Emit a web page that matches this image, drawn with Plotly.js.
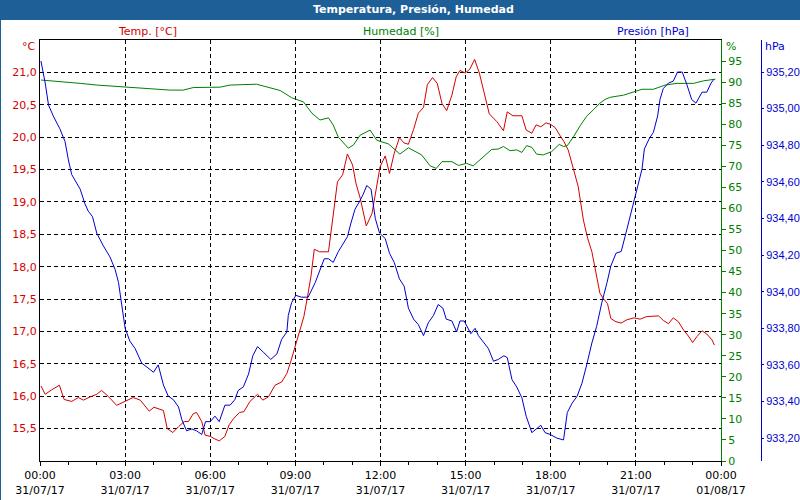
<!DOCTYPE html>
<html>
<head>
<meta charset="utf-8">
<script src="https://cdn.plot.ly/plotly-3.0.1.min.js"></script>
<style>
  body { margin: 0; background: #fff; }
  #chart { width: 800px; height: 500px; }
</style>
</head>
<body>
<div id="chart"></div>
<script>
// minutes after 00:00 on 31/07/17
var tempMin = [2, 11, 25, 41, 51, 67, 81, 92, 106, 120, 130, 144, 162, 180, 197, 212, 231, 241, 261, 269,
  281, 293, 305, 314, 324, 331, 342, 349, 360, 370, 379, 391, 400, 410, 422, 431, 444, 460, 471, 483,
  497, 511, 522, 530, 539, 548, 558, 565, 573, 580, 591, 610, 615, 622, 629, 640, 650, 661, 668, 677,
  690, 702, 709, 719, 730, 739, 749, 760, 770, 779, 790, 800, 811, 819, 830, 840, 850, 860, 871, 880,
  888, 899, 909, 919, 929, 939, 950, 966, 980, 988, 1000, 1019, 1028, 1040, 1049, 1059, 1070, 1079, 1089, 1100,
  1108, 1117, 1128, 1138, 1149, 1158, 1167, 1176, 1184, 1191, 1200, 1207, 1218, 1229, 1241, 1256, 1269, 1283, 1297, 1308,
  1318, 1329, 1339, 1350, 1361, 1371, 1380, 1389, 1400, 1410, 1421, 1426];
var tempVal = [16.16, 16.03, 16.10, 16.17, 15.95, 15.92, 15.98, 15.94, 15.99, 16.03, 16.09, 16.00, 15.86, 15.92, 15.98, 15.94, 15.77, 15.83, 15.78, 15.50,
  15.44, 15.53, 15.61, 15.61, 15.73, 15.75, 15.61, 15.40, 15.38, 15.34, 15.31, 15.38, 15.56, 15.66, 15.75, 15.76, 15.92, 16.03, 15.94, 15.99,
  16.17, 16.22, 16.35, 16.53, 16.76, 16.97, 17.23, 17.51, 17.85, 18.27, 18.23, 18.23, 18.52, 18.98, 19.31, 19.42, 19.74, 19.57, 19.29, 19.06,
  18.63, 18.82, 19.13, 19.54, 19.71, 19.44, 19.75, 19.99, 19.91, 19.89, 20.12, 20.37, 20.46, 20.81, 20.92, 20.83, 20.52, 20.41, 20.65, 20.93,
  21.03, 20.99, 21.05, 21.20, 20.99, 20.69, 20.36, 20.24, 20.10, 20.39, 20.33, 20.33, 20.11, 20.06, 20.19, 20.16, 20.22, 20.20, 20.15, 20.02,
  19.93, 19.80, 19.52, 19.24, 18.72, 18.44, 18.23, 17.90, 17.59, 17.51, 17.43, 17.20, 17.15, 17.13, 17.18, 17.21, 17.19, 17.23, 17.23, 17.24,
  17.17, 17.12, 17.21, 17.15, 17.02, 16.93, 16.83, 16.92, 17.01, 16.96, 16.87, 16.79];

var humMin = [2, 49, 85, 120, 176, 226, 275, 303, 324, 381, 402, 458, 472, 508, 532, 557, 575, 592, 610, 620,
  631, 652, 663, 677, 698, 712, 737, 761, 779, 807, 825, 838, 850, 871, 885, 902, 916, 934, 955, 969,
  980, 994, 1008, 1019, 1029, 1040, 1050, 1064, 1082, 1098, 1107, 1115, 1128, 1142, 1156, 1170, 1184, 1195, 1206, 1234,
  1258, 1273, 1297, 1322, 1347, 1382, 1403, 1428];
var humVal = [90.5, 90.1, 89.7, 89.3, 88.9, 88.4, 88.1, 88.1, 88.7, 88.8, 89.3, 89.5, 89.1, 88.0, 86.3, 85.3, 82.6, 81.0, 81.5, 79.8,
  76.9, 74.3, 75.1, 77.4, 78.6, 76.2, 75.3, 72.9, 74.4, 72.7, 70.1, 69.5, 71.1, 71.1, 70.2, 70.7, 70.1, 71.9, 74.0, 74.1,
  74.7, 73.7, 73.9, 73.3, 74.9, 74.5, 72.9, 72.7, 73.5, 75.2, 74.7, 74.9, 77.0, 79.6, 81.9, 83.4, 85.0, 85.9, 86.4, 86.9,
  87.7, 88.3, 88.3, 89.3, 89.7, 89.7, 90.3, 90.7];

var presMin = [2, 11, 18, 28, 42, 53, 60, 67, 85, 95, 102, 111, 120, 134, 148, 159, 166, 173, 180, 190,
  201, 215, 229, 240, 250, 261, 271, 282, 293, 300, 310, 321, 331, 342, 350, 360, 370, 379, 391, 402,
  412, 419, 430, 441, 450, 460, 472, 488, 501, 511, 522, 525, 532, 541, 553, 567, 582, 592, 601, 610,
  620, 631, 640, 650, 657, 666, 675, 683, 691, 700, 709, 718, 730, 739, 749, 760, 770, 779, 790, 800,
  811, 821, 832, 842, 852, 859, 871, 881, 888, 897, 911, 920, 927, 939, 948, 959, 969, 981, 988, 998,
  1008, 1019, 1028, 1040, 1049, 1059, 1068, 1079, 1093, 1107, 1115, 1125, 1136, 1146, 1156, 1167, 1177, 1188, 1199, 1207,
  1218, 1229, 1237, 1246, 1255, 1263, 1273, 1278, 1289, 1297, 1306, 1311, 1318, 1329, 1339, 1348, 1358, 1368, 1378, 1387,
  1400, 1410, 1419, 1425];
var presVal = [935.26, 935.14, 935.02, 934.96, 934.89, 934.82, 934.72, 934.64, 934.56, 934.48, 934.44, 934.41, 934.32, 934.25, 934.19, 934.12, 934.05, 933.92, 933.80, 933.73,
  933.69, 933.61, 933.58, 933.56, 933.60, 933.49, 933.43, 933.41, 933.37, 933.30, 933.24, 933.25, 933.24, 933.22, 933.29, 933.29, 933.32, 933.29, 933.38, 933.38,
  933.41, 933.46, 933.48, 933.55, 933.65, 933.70, 933.67, 933.63, 933.66, 933.74, 933.78, 933.87, 933.94, 933.98, 933.97, 933.97, 934.05, 934.12, 934.18, 934.18,
  934.16, 934.22, 934.26, 934.30, 934.37, 934.45, 934.49, 934.53, 934.58, 934.56, 934.40, 934.32, 934.29, 934.21, 934.16, 934.07, 934.03, 933.91, 933.85, 933.82,
  933.76, 933.83, 933.87, 933.93, 933.91, 933.85, 933.84, 933.78, 933.84, 933.84, 933.77, 933.80, 933.76, 933.72, 933.69, 933.62, 933.63, 933.65, 933.64, 933.52,
  933.48, 933.42, 933.32, 933.23, 933.25, 933.27, 933.23, 933.22, 933.20, 933.19, 933.34, 933.39, 933.43, 933.50, 933.60, 933.72, 933.81, 933.94, 934.05, 934.14,
  934.21, 934.22, 934.30, 934.39, 934.49, 934.56, 934.67, 934.78, 934.84, 934.87, 934.96, 935.05, 935.11, 935.14, 935.15, 935.20, 935.20, 935.13, 935.05, 935.03,
  935.09, 935.09, 935.14, 935.16];

var tempTicks = [15.5, 16.0, 16.5, 17.0, 17.5, 18.0, 18.5, 19.0, 19.5, 20.0, 20.5, 21.0];
var humTicks = [0, 5, 10, 15, 20, 25, 30, 35, 40, 45, 50, 55, 60, 65, 70, 75, 80, 85, 90, 95];
var presTicks = [933.2, 933.4, 933.6, 933.8, 934.0, 934.2, 934.4, 934.6, 934.8, 935.0, 935.2];

function toTime(m) {
  var h = Math.floor(m / 60), mm = m % 60;
  return '2017-07-31 ' + (h < 10 ? '0' : '') + h + ':' + (mm < 10 ? '0' : '') + mm;
}

var red = '#d40000', green = '#008000', blue = '#0000d0';
var font = 'DejaVu Sans, Verdana, sans-serif';
var narrow = 'Liberation Sans, Arial, sans-serif';

var traces = [
  {x: humMin.map(toTime), y: humVal, yaxis: 'y2', type: 'scatter', mode: 'lines',
   line: {color: green, width: 1}},
  {x: presMin.map(toTime), y: presVal, yaxis: 'y3', type: 'scatter', mode: 'lines',
   line: {color: blue, width: 1}},
  {x: tempMin.map(toTime), y: tempVal, type: 'scatter', mode: 'lines',
   line: {color: red, width: 1}}
];

// paper: x 40..780 px, y 40..461 px
var W = 740, H = 421;
function px(x) { return (x - 40) / W; }
function py(y) { return (461 - y) / H; }

var layout = {
  width: 800, height: 500,
  margin: {l: 40, r: 20, t: 40, b: 39},
  paper_bgcolor: '#fff', plot_bgcolor: '#fff',
  separators: ',.',
  showlegend: false,
  font: {family: font, size: 11, color: '#000'},
  xaxis: {
    type: 'date', domain: [0, 681 / W],
    range: ['2017-07-31 00:00', '2017-08-01 00:00'],
    tick0: '2017-07-31 00:00', dtick: 3 * 3600000,
    tickformat: '%H:%M<br>%d/%m/%y',
    showgrid: true, gridcolor: '#000', gridwidth: 1, griddash: '4px,3px',
    showline: true, linecolor: '#000', linewidth: 1, mirror: true,
    ticks: 'outside', ticklen: 4, tickcolor: '#000',
    minor: {dtick: 3600000, ticks: 'outside', ticklen: 3, tickcolor: '#000', showgrid: false},
    zeroline: false, fixedrange: true
  },
  yaxis: {
    range: [15.0, 21.5], tickvals: tempTicks, tickformat: '.1f',
    tickfont: {color: red, size: 11, family: font},
    showgrid: true, gridcolor: '#000', gridwidth: 1, griddash: '4px,3px',
    showline: true, linecolor: '#000', linewidth: 1,
    ticks: '', zeroline: false
  },
  yaxis2: {
    overlaying: 'y', side: 'right', anchor: 'x',
    range: [0, 100], tickvals: humTicks,
    tickfont: {color: green, size: 11, family: font},
    showgrid: false, showline: true, linecolor: green, linewidth: 1,
    ticks: 'outside', ticklen: 4, tickcolor: green, zeroline: false
  },
  yaxis3: {
    overlaying: 'y', side: 'right', anchor: 'free', position: px(761),
    range: [933.075, 935.375], tickvals: presTicks, tickformat: '.2f',
    tickfont: {color: blue, size: 11, family: narrow},
    showgrid: false, showline: true, linecolor: blue, linewidth: 1,
    ticks: 'outside', ticklen: 2, tickcolor: blue, zeroline: false
  },
  shapes: [
    {type: 'rect', xref: 'paper', yref: 'paper', x0: px(0), x1: px(800), y0: py(20), y1: py(0),
     fillcolor: '#1f5f97', line: {width: 0}, layer: 'above'},
    {type: 'rect', xref: 'paper', yref: 'paper', x0: px(0), x1: px(1), y0: py(500), y1: py(20),
     fillcolor: '#1f5f97', line: {width: 0}, layer: 'above'}
  ],
  annotations: [
    {text: '<b>Temperatura, Presión, Humedad</b>', xref: 'paper', yref: 'paper', x: px(414), y: py(10),
     xanchor: 'center', yanchor: 'middle', showarrow: false, font: {color: '#fff', size: 11, family: font}},
    {text: 'Temp. [°C]', xref: 'paper', yref: 'paper', x: px(147), y: py(32),
     xanchor: 'center', yanchor: 'middle', showarrow: false, font: {color: red, size: 11, family: font}},
    {text: 'Humedad [%]', xref: 'paper', yref: 'paper', x: px(401), y: py(32),
     xanchor: 'center', yanchor: 'middle', showarrow: false, font: {color: green, size: 11, family: font}},
    {text: 'Presión [hPa]', xref: 'paper', yref: 'paper', x: px(653), y: py(32),
     xanchor: 'center', yanchor: 'middle', showarrow: false, font: {color: blue, size: 11, family: font}},
    {text: '°C', xref: 'paper', yref: 'paper', x: px(38), y: py(46),
     xanchor: 'right', yanchor: 'middle', showarrow: false, font: {color: red, size: 11, family: font}},
    {text: '%', xref: 'paper', yref: 'paper', x: px(724), y: py(46),
     xanchor: 'left', yanchor: 'middle', showarrow: false, font: {color: green, size: 11, family: font}},
    {text: 'hPa', xref: 'paper', yref: 'paper', x: px(763), y: py(46),
     xanchor: 'left', yanchor: 'middle', showarrow: false, font: {color: blue, size: 11, family: font}}
  ]
};

Plotly.newPlot('chart', traces, layout, {staticPlot: true, displayModeBar: false});
</script>
</body>
</html>
